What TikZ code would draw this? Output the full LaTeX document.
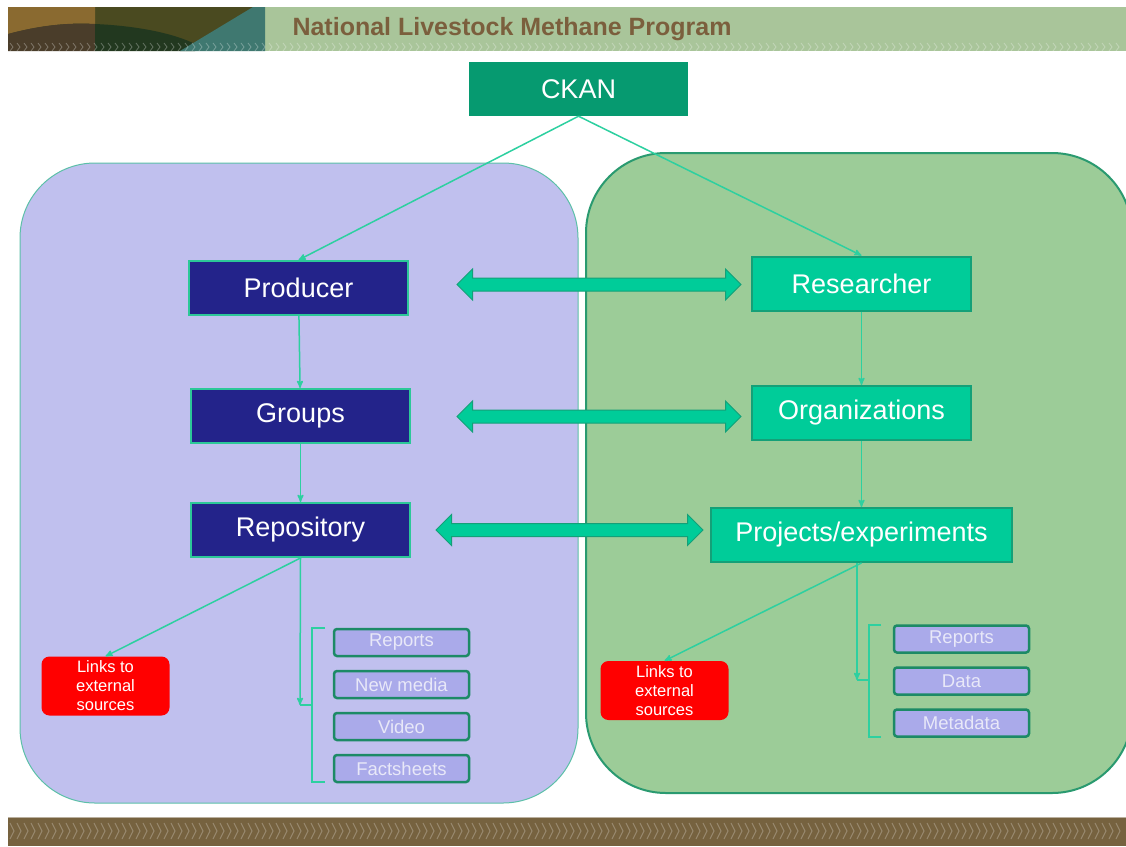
\documentclass[tikz,border=0pt]{standalone}
\usepackage{fontspec}
\setmainfont{Liberation Sans}
\usepackage{tikz}
\usetikzlibrary{arrows,shapes.arrows,positioning}

\definecolor{sage}{HTML}{A9C59A}
\definecolor{titlebrown}{HTML}{7B5F3D}
\definecolor{barbrown}{HTML}{76623F}
\definecolor{ckangreen}{HTML}{069A70}
\definecolor{navy}{HTML}{23238A}
\definecolor{brightteal}{HTML}{00CC99}
\definecolor{tealdark}{HTML}{14A078}
\definecolor{tealedge}{HTML}{2CC898}
\definecolor{wirecol}{HTML}{2DD0A0}
\definecolor{lavender}{HTML}{C0C0EE}
\definecolor{lavedge}{HTML}{5CC0A8}
\definecolor{leaf}{HTML}{9CCC98}
\definecolor{leafedge}{HTML}{2A9A70}
\definecolor{itemfill}{HTML}{AAAAEA}
\definecolor{itemedge}{HTML}{1C8A66}
\definecolor{itemtext}{HTML}{E8E8F8}
\definecolor{ochre}{HTML}{8A6A30}
\definecolor{moss}{HTML}{4A4A20}
\definecolor{umber}{HTML}{4A3D2A}
\definecolor{pine}{HTML}{22381F}
\definecolor{slate}{HTML}{3F7870}

\begin{document}
\begin{tikzpicture}[x=1pt,y=-1pt,node distance=12.5pt]
  \tikzstyle{navybox}=[draw=tealedge,line width=2pt,fill=navy,text=white,
                       minimum width=219pt,minimum height=54pt,
                       font=\fontsize{27}{30}\selectfont]
  \tikzstyle{tealbox}=[draw=tealdark,line width=2pt,fill=brightteal,text=white,
                       minimum width=219pt,minimum height=54pt,
                       font=\fontsize{27}{30}\selectfont]
  \tikzstyle{itembox}=[rounded corners=3pt,draw=itemedge,line width=2.5pt,
                       fill=itemfill,text=itemtext,inner sep=0pt,
                       minimum width=135pt,minimum height=27pt,
                       font=\fontsize{18.5}{20}\selectfont]
  \tikzstyle{linkbox}=[rounded corners=8pt,fill=red,text=white,align=center,
                       minimum width=128pt,minimum height=59pt,inner sep=0pt,
                       font=\fontsize{16.5}{19}\selectfont]
  \tikzstyle{wire}=[->,>=stealth',draw=wirecol,line width=1.5pt]
  \tikzstyle{twoway}=[double arrow,draw=tealdark,fill=brightteal,line width=1pt,
                      minimum width=30pt,double arrow head extend=9pt,
                      inner xsep=0pt,inner ysep=6pt]

  \useasboundingbox[fill=white] (0,0) rectangle (1126,846);

  % header band
  \fill[sage] (265,7) rectangle (1126,51);
  \fill[moss] (8,7) rectangle (265,51);
  \fill[ochre] (8,7) -- (95,7) -- (95,24)
      .. controls (60,22) and (30,28) .. (8,34) -- cycle;
  \fill[umber] (8,34) .. controls (30,28) and (60,22) .. (95,24)
      -- (95,51) -- (8,51) -- cycle;
  \fill[pine] (95,24) .. controls (140,26) and (175,34) .. (195,44)
      -- (195,51) -- (95,51) -- cycle;
  \fill[slate] (253,7) -- (265,7) -- (265,51) -- (180,51) -- cycle;
  \foreach \x in {10,17,...,1120}
    \draw[white,opacity=.3,line width=.8pt] (\x,43) -- (\x+3,47) -- (\x,51);
  \node[anchor=west,text=titlebrown,font=\fontsize{25}{27}\selectfont\bfseries]
    (title) at (289,29) {National Livestock Methane Program};

  % footer band
  \fill[barbrown] (8,817) rectangle (1126,846);
  \draw[barbrown!50!white,line width=1pt] (8,817.5) -- (1126,817.5);
  \foreach \x in {10,17,...,1120}
    \draw[white,opacity=.25,line width=1pt] (\x,823) -- (\x+4,831) -- (\x,839);

  % the two sides
  \draw[fill=lavender,draw=lavedge,line width=1pt,rounded corners=75pt]
    (20,163) rectangle (578,803);
  \draw[fill=leaf,draw=leafedge,line width=2pt,rounded corners=80pt]
    (586,153) rectangle (1132,793);

  \node[fill=ckangreen,text=white,minimum width=219pt,minimum height=54pt,
        font=\fontsize{27}{30}\selectfont] (ckan) at (578.5,89) {CKAN};

  \node[navybox] (prod) at (298.5,288) {Producer};
  \node[navybox] (grp)  at (300.5,416) {Groups};
  \node[navybox] (repo) at (300.5,530) {Repository};

  \node[tealbox] (res)  at (861.5,283.5) {Researcher};
  \node[tealbox] (org)  at (861.5,413) {Organizations};
  \node[tealbox,minimum width=301pt] (proj) at (861.5,535) {Projects/experiments};

  \node[twoway,minimum height=284pt] (pr) at (599,284.5) {};
  \node[twoway,minimum height=284pt] (go) at (599,416.5) {};
  \node[twoway,minimum height=267pt] (rp) at (569.5,530) {};

  \node[linkbox] (lext) at (105.5,686) {Links to\\external\\sources};
  \node[linkbox] (rext) at (664.5,690.5) {Links to\\external\\sources};

  \node[itembox] (lrep) at (401.5,642.5) {Reports};
  \node[itembox,below=of lrep] (lmed) {New media};
  \node[itembox,below=of lmed] (lvid) {Video};
  \node[itembox,below=of lvid] (lfac) {Factsheets};

  \node[itembox] (rrep) at (961.5,639) {Reports};
  \node[itembox,below=of rrep] (rdat) {Data};
  \node[itembox,below=of rdat] (rmet) {Metadata};

  \coordinate (lfork) at (300,705);
  \coordinate (rfork) at (857,680);

  \path (ckan.south) edge[wire] (prod.north)
        (ckan.south) edge[wire] (res.north)
        (prod) edge[wire] (grp)
        (grp)  edge[wire] (repo)
        (res)  edge[wire] (org)
        (org)  edge[wire] (proj)
        (repo.south) edge[wire] (lext.north)
        (repo.south) edge[wire] (lfork)
        (proj.south) edge[wire] (rext.north)
        ([xshift=-4.5pt]proj.south) edge[wire] (rfork);

  % brackets round the item lists
  \draw[wirecol,line width=1.5pt] (325,628) -- (312,628) -- (312,782) -- (325,782)
    (lfork) -- (312,705);
  \draw[wirecol,line width=1.5pt] (881,625) -- (869,625) -- (869,737) -- (881,737)
    (rfork) -- (869,680);
\end{tikzpicture}
\end{document}
